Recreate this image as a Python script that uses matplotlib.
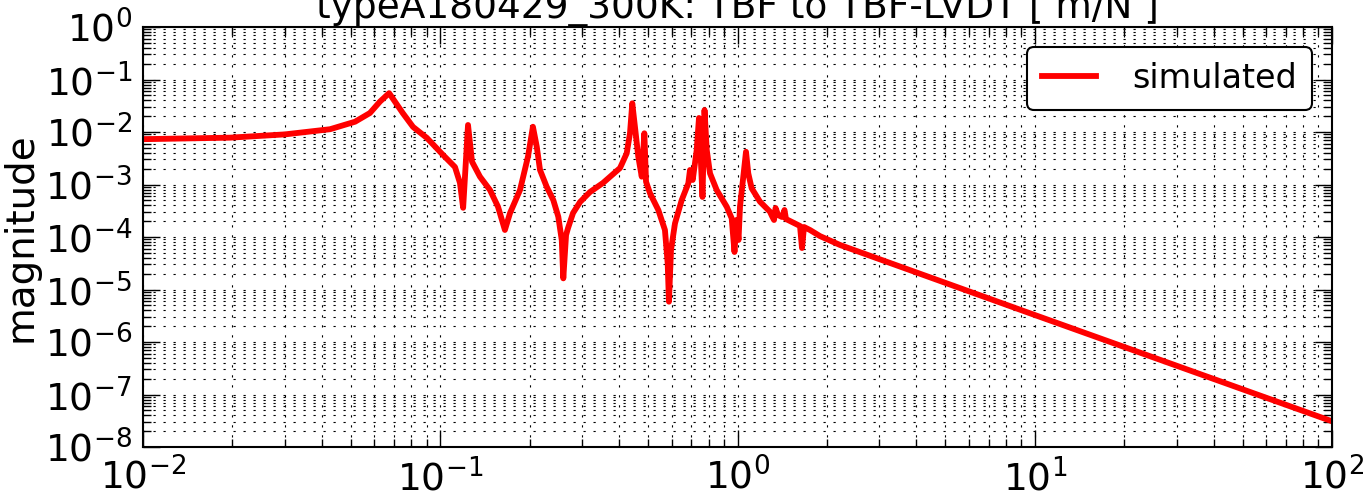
import matplotlib
matplotlib.use("Agg")
import matplotlib.pyplot as plt
from matplotlib.ticker import LogLocator, NullFormatter

# frequency [Hz] and magnitude [m/N]
freq = [
    0.0100, 0.0196, 0.0300, 0.0426, 0.0517, 0.0580, 0.0627, 0.0673, 0.0709,
    0.0749, 0.0810, 0.0902, 0.1022, 0.1121, 0.1165, 0.1194, 0.1240, 0.1279,
    0.1360, 0.1470, 0.1564, 0.1650, 0.1717, 0.1855, 0.1973, 0.2050, 0.2112,
    0.2166, 0.2280, 0.2400, 0.2495, 0.2563, 0.2594, 0.2650, 0.2691, 0.2797,
    0.2953, 0.3190, 0.3527, 0.4025, 0.4239, 0.4348, 0.4426, 0.4518, 0.4637,
    0.4763, 0.4860, 0.4924, 0.5078, 0.5415, 0.5700, 0.5823, 0.5880, 0.5974,
    0.6162, 0.6492, 0.6831, 0.6922, 0.7069, 0.7291, 0.7420, 0.7625, 0.7745,
    0.7880, 0.8082, 0.8511, 0.9197, 0.9560, 0.9770, 0.9920, 1.0080, 1.0195,
    1.0460, 1.0680, 1.0870, 1.1160, 1.1900, 1.2860, 1.3060, 1.3270, 1.3430,
    1.3690, 1.4120, 1.4390, 1.4560, 1.6230, 1.6480, 1.6740, 1.7530, 1.8950,
    2.2130, 10.0, 100.0,
]
mag = [
    7.3e-3, 7.8e-3, 9.0e-3, 1.13e-2, 1.57e-2, 2.3e-2, 3.8e-2, 5.5e-2, 3.57e-2,
    2.27e-2, 1.25e-2, 7.7e-3, 3.65e-3, 2.15e-3, 1.07e-3, 3.6e-4, 1.36e-2, 2.72e-3,
    1.41e-3, 7.85e-4, 3.78e-4, 1.36e-4, 2.86e-4, 7.85e-4, 3.39e-3, 1.26e-2, 5.25e-3,
    1.89e-3, 9.08e-4, 5.07e-4, 2.44e-4, 8.77e-5, 1.63e-5, 1.09e-4, 1.48e-4, 2.86e-4,
    4.64e-4, 7.2e-4, 1.07e-3, 2.06e-3, 3.93e-3, 9.45e-3, 3.52e-2, 1.26e-2, 3.39e-3,
    1.41e-3, 9.45e-3, 1.13e-3, 6.79e-4, 3.27e-4, 1.36e-4, 3.15e-5, 5.86e-6, 5.65e-5,
    1.82e-4, 5.07e-4, 1.05e-3, 1.89e-3, 1.22e-3, 4.54e-3, 1.85e-2, 5.8e-4, 2.62e-2,
    4.54e-3, 1.63e-3, 7.85e-4, 3.78e-4, 2.27e-4, 5.18e-5, 2.11e-4, 8.77e-5, 3.78e-4,
    1.41e-3, 4.2e-3, 1.63e-3, 8.47e-4, 4.71e-4, 3.03e-4, 2.51e-4, 2.11e-4, 3.57e-4,
    2.62e-4, 2.40e-4, 3.27e-4, 2.20e-4, 1.62e-4, 6.17e-5, 1.55e-4, 1.36e-4, 1.04e-4,
    7.04e-5, 3.27e-6, 3.09e-8,
]

x_ticks = [1e-2, 1e-1, 1e0, 1e1, 1e2]
y_ticks = [1e-8, 1e-7, 1e-6, 1e-5, 1e-4, 1e-3, 1e-2, 1e-1, 1e0]
title = "typeA180429_300K: TBF to TBF-LVDT [ m/N ]"

plt.rcParams["font.family"] = ["DejaVu Sans"]
plt.rcParams["axes.unicode_minus"] = False
plt.rcParams["lines.scale_dashes"] = False

fig = plt.figure(figsize=(13.67, 4.92), dpi=100)
ax = fig.add_axes([143 / 1367, 1 - 447 / 492, 1189 / 1367, 420 / 492])

ax.loglog(freq, mag, color="red", linewidth=4.2, label="simulated")

ax.set_xlim(1e-2, 1e2)
ax.set_ylim(1e-8, 1e0)
ax.set_xticks(x_ticks)
ax.set_yticks(y_ticks)
ax.xaxis.set_minor_locator(LogLocator(base=10, subs=range(2, 10), numticks=50))
ax.yaxis.set_minor_locator(LogLocator(base=10, subs=range(2, 10), numticks=50))
ax.xaxis.set_minor_formatter(NullFormatter())
ax.yaxis.set_minor_formatter(NullFormatter())

# sparse dotted grid like the old matplotlib look
ax.grid(True, which="both", linestyle=(0, (1.6, 5.6)), color="k", linewidth=0.8)
ax.tick_params(which="both", direction="in", top=True, right=True)
ax.tick_params(which="major", length=12, width=1, labelsize=27, pad=8)
ax.tick_params(which="minor", length=6, width=1)
for sp in ax.spines.values():
    sp.set_linewidth(1.5)

ax.set_ylabel("magnitude", fontsize=28)
ax.set_title(title, fontsize=27, pad=6)

leg = ax.legend(loc="upper right", fontsize=24, fancybox=True, framealpha=1,
                edgecolor="k", handlelength=1.6, handletextpad=1.1, borderpad=0.45,
                borderaxespad=0.6)
leg.get_frame().set_linewidth(1.5)

fig.savefig("out.png", dpi=100)
